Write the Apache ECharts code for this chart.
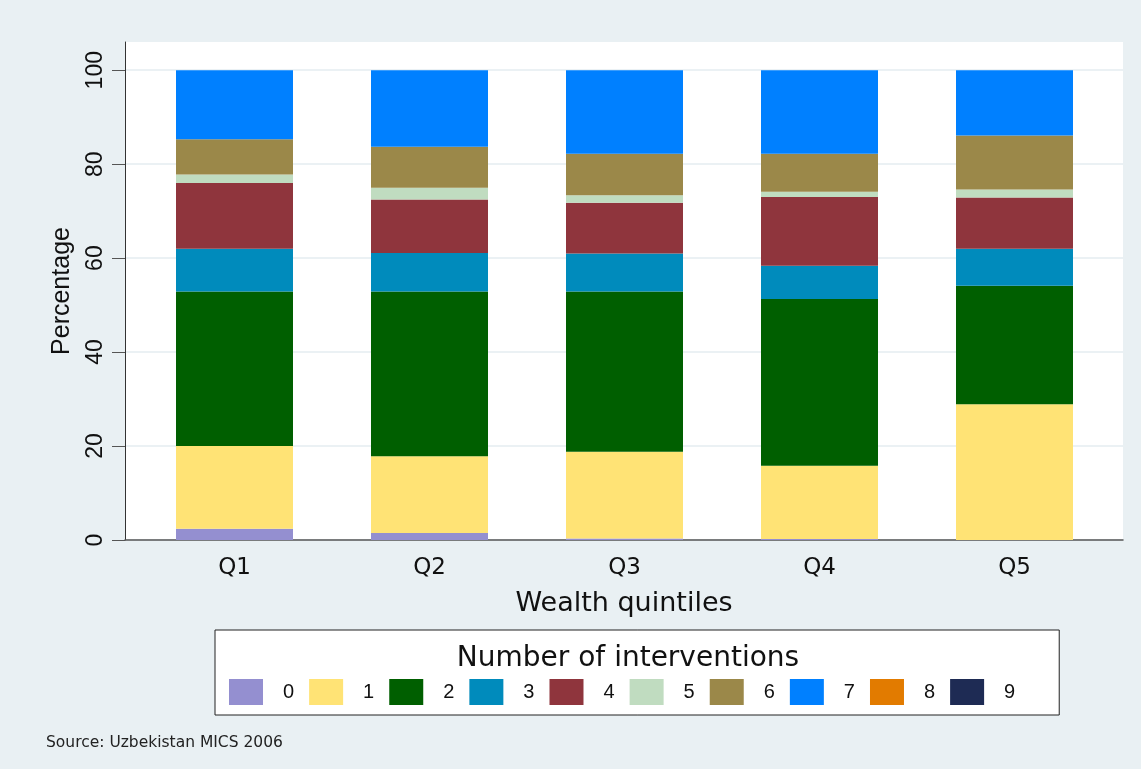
<!DOCTYPE html>
<html>
<head>
<meta charset="utf-8">
<script src="https://cdn.jsdelivr.net/npm/echarts@6/dist/echarts.min.js"></script>
<style>
html,body{margin:0;padding:0;background:#e9f0f3;}
#chart{width:1141px;height:769px;}
</style>
</head>
<body>
<div id="chart"></div>
<script>
const categories = ['Q1', 'Q2', 'Q3', 'Q4', 'Q5'];
const seriesNames = ['0', '1', '2', '3', '4', '5', '6', '7', '8', '9'];
const s0 = [2.4, 1.5, 0.3, 0.2, 0];
const s1 = [17.6, 16.3, 18.5, 15.6, 28.9];
const s2 = [32.9, 35.1, 34.1, 35.5, 25.2];
const s3 = [9.1, 8.2, 8.1, 7.1, 7.9];
const s4 = [14.0, 11.4, 10.8, 14.6, 10.9];
const s5 = [1.8, 2.5, 1.6, 1.1, 1.7];
const s6 = [7.5, 8.7, 8.8, 8.1, 11.5];
const s7 = [14.7, 16.3, 17.8, 17.8, 13.9];
const s8 = [0, 0, 0, 0, 0];
const s9 = [0, 0, 0, 0, 0];
const yTicks = [0, 20, 40, 60, 80, 100];
const colors = ['#948fd0', '#ffe375', '#005f00', '#008bbc', '#8f353d', '#c0dcc0', '#9b8849', '#0080ff', '#e27b00', '#1e2b54'];
const allSeries = [s0, s1, s2, s3, s4, s5, s6, s7, s8, s9];

const chart = echarts.init(document.getElementById('chart'), null, {renderer: 'canvas'});
const font = 'Liberation Sans, Arial, Helvetica, sans-serif';
const wide = 'DejaVu Sans, Liberation Sans, sans-serif';

chart.setOption({
  backgroundColor: '#e9f0f3',
  animation: false,
  color: colors,
  title: [
    {text: 'Number of interventions', left: 623, top: 640, textAlign: 'center',
     textStyle: {fontFamily: wide, fontSize: 28, fontWeight: 'normal', color: '#111'}},
    {text: 'Source: Uzbekistan MICS 2006', left: 41, top: 730,
     textStyle: {fontFamily: wide, fontSize: 15.5, fontWeight: 'normal', color: '#222'}}
  ],
  legend: {
    data: seriesNames,
    left: 215, top: 630,
    orient: 'horizontal',
    padding: [49, 44, 10, 14],
    backgroundColor: '#ffffff',
    borderColor: '#222',
    borderWidth: 1,
    borderRadius: 0,
    itemWidth: 34, itemHeight: 26, itemGap: 15,
    icon: 'rect',
    selectedMode: false,
    textStyle: {fontFamily: font, fontSize: 20, color: '#111', padding: [0, 0, 0, 15]}
  },
  grid: [
    {left: 125, right: 18, top: 42, bottom: 229, show: true, backgroundColor: '#ffffff', borderWidth: 0},
    {left: 137, right: 29, top: 42, bottom: 229}
  ],
  xAxis: [
    {gridIndex: 0, type: 'category', data: categories, show: true,
     axisLine: {show: true, lineStyle: {color: '#555', width: 1.5}},
     axisTick: {show: false}, axisLabel: {show: false}, splitLine: {show: false},
     name: 'Wealth quintiles', nameLocation: 'middle', nameGap: 50,
     nameTextStyle: {fontFamily: wide, fontSize: 27, color: '#111'}},
    {gridIndex: 1, type: 'category', data: categories,
     axisLine: {show: false}, axisTick: {show: false},
     axisLabel: {fontFamily: wide, fontSize: 23, color: '#111', margin: 17}}
  ],
  yAxis: [
    {gridIndex: 0, type: 'value', min: 0, max: 106, interval: 20,
     axisLine: {show: true, lineStyle: {color: '#333', width: 1}},
     axisTick: {show: true, length: 13, lineStyle: {color: '#555'}, customValues: yTicks},
     axisLabel: {show: true, rotate: 90, fontFamily: font, fontSize: 23, color: '#111', margin: 18, customValues: yTicks},
     splitLine: {show: true, lineStyle: {color: '#e4edf0', width: 1.5}},
     name: 'Percentage', nameLocation: 'middle', nameGap: 50, nameRotate: 90,
     nameTextStyle: {fontFamily: font, fontSize: 25, color: '#111'}},
    {gridIndex: 1, type: 'value', min: 0, max: 106, show: false, splitLine: {show: false}}
  ],
  series: allSeries.map((vals, i) => ({
    name: seriesNames[i],
    type: 'bar',
    stack: 'total',
    xAxisIndex: 1,
    yAxisIndex: 1,
    barWidth: 117,
    data: vals,
    itemStyle: {color: colors[i]}
  }))
});
</script>
</body>
</html>
